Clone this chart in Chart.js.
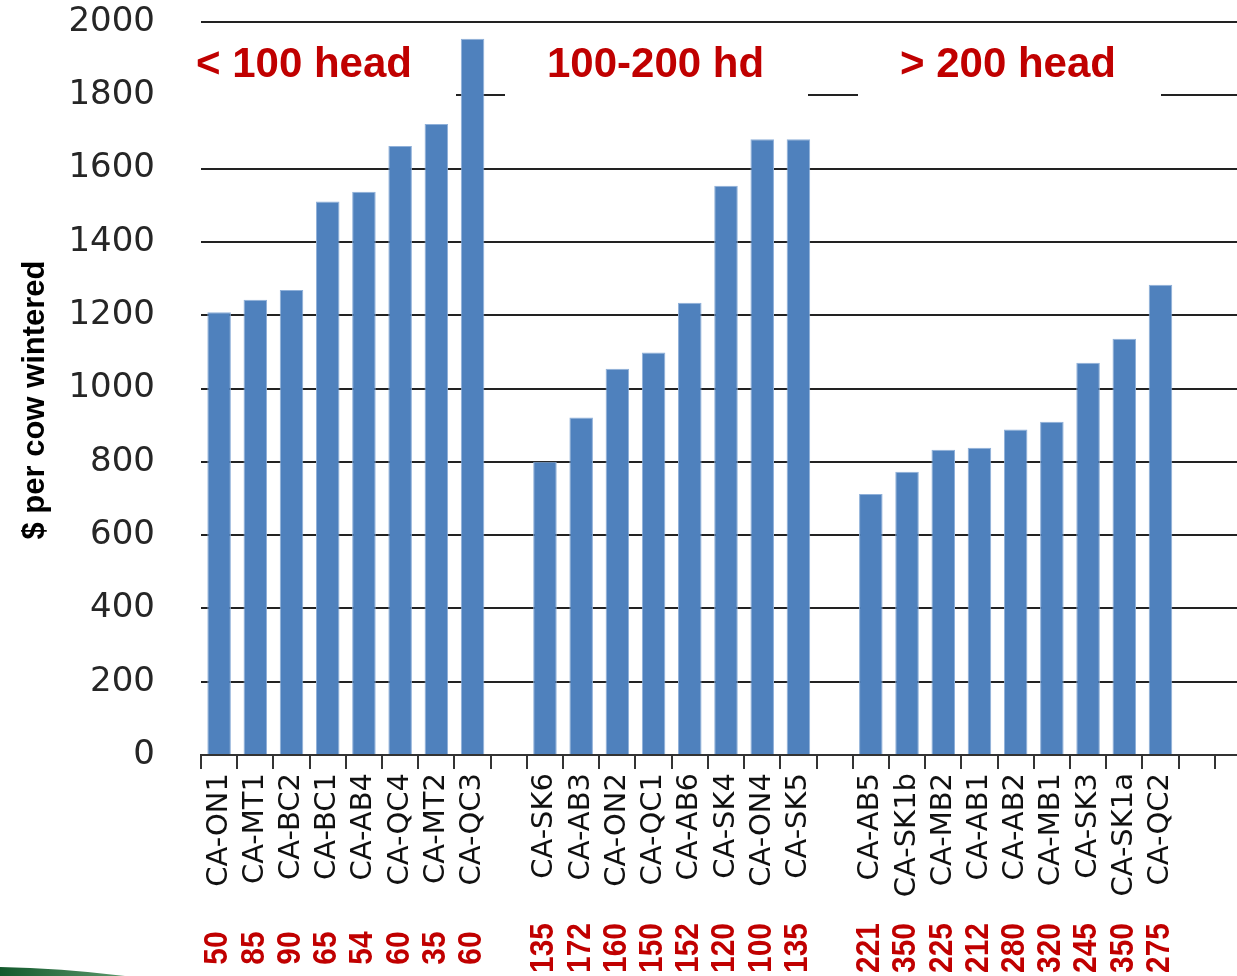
<!DOCTYPE html>
<html>
<head>
<meta charset="utf-8">
<script src="https://cdn.jsdelivr.net/npm/chart.js@4.4.1/dist/chart.umd.min.js"></script>
<style>
  html, body { margin: 0; padding: 0; background: #fff; overflow: hidden; }
  canvas { display: block; }
</style>
</head>
<body>
<canvas id="costChart" width="1251" height="976"></canvas>
<script>
// farms sorted within herd-size groups; "" slots are the gaps between groups
const farms = [
  "CA-ON1", "CA-MT1", "CA-BC2", "CA-BC1", "CA-AB4", "CA-QC4", "CA-MT2", "CA-QC3", "",
  "CA-SK6", "CA-AB3", "CA-ON2", "CA-QC1", "CA-AB6", "CA-SK4", "CA-ON4", "CA-SK5", "",
  "CA-AB5", "CA-SK1b", "CA-MB2", "CA-AB1", "CA-AB2", "CA-MB1", "CA-SK3", "CA-SK1a", "CA-QC2", "", ""
];
const costPerCow = [
  1208, 1242, 1269, 1510, 1537, 1662, 1722, 1954, null,
  800, 921, 1054, 1098, 1234, 1553, 1680, 1680, null,
  712, 773, 833, 838, 888, 909, 1070, 1136, 1283, null, null
];
const herdSizes = [
  "50", "85", "90", "65", "54", "60", "35", "60", "",
  "135", "172", "160", "150", "152", "120", "100", "135", "",
  "221", "350", "225", "212", "280", "320", "245", "350", "275", "", ""
];
const groupNames = ["< 100 head", "100-200 hd", "> 200 head"];
const yMin = 0, yMax = 2000, yStep = 200;

const red = "#c00000";

// text boxes, herd sizes, axis title
const overlay = {
  id: "overlay",
  beforeDatasetsDraw(chart) {
    const ctx = chart.ctx;
    ctx.save();
    // white boxes behind the group titles hide the 1800 line
    ctx.fillStyle = "#fff";
    [[190, 456], [505, 808], [858, 1161]].forEach(function (b) {
      ctx.fillRect(b[0], 34, b[1] - b[0], 70);
    });
    ctx.fillStyle = red;
    ctx.font = 'bold 42px "Liberation Sans", Arial, sans-serif';
    ctx.textBaseline = "alphabetic";
    const left = [196, 547, 900];
    groupNames.forEach(function (t, i) {
      ctx.fillText(t, left[i], 77);
    });
    ctx.restore();
  },
  afterDraw(chart) {
    const ctx = chart.ctx;
    const x = chart.scales.x;
    ctx.save();
    ctx.fillStyle = red;
    ctx.font = 'bold 34px "Liberation Sans", Arial, sans-serif';
    ctx.textAlign = "center";
    ctx.textBaseline = "middle";
    herdSizes.forEach(function (h, i) {
      if (!h) return;
      ctx.save();
      ctx.translate(x.getPixelForValue(i) - 1, 948);
      ctx.rotate(-Math.PI / 2);
      ctx.scale(0.88, 1);
      ctx.fillText(h, 0, 0);
      ctx.restore();
    });

    // y axis title
    ctx.save();
    ctx.fillStyle = "#000";
    ctx.font = 'bold 31px "Liberation Sans", Arial, sans-serif';
    ctx.textAlign = "center";
    ctx.textBaseline = "middle";
    ctx.translate(35, 400);
    ctx.rotate(-Math.PI / 2);
    ctx.fillText("$ per cow wintered", 0, 0);
    ctx.restore();

    // green swoosh in the corner of the slide
    const g = ctx.createLinearGradient(0, 0, 130, 0);
    g.addColorStop(0, "#12592c");
    g.addColorStop(1, "#5f9a6e");
    ctx.fillStyle = g;
    ctx.beginPath();
    ctx.moveTo(0, 967);
    ctx.quadraticCurveTo(60, 968, 125, 976);
    ctx.lineTo(0, 976);
    ctx.closePath();
    ctx.fill();
    ctx.restore();
  }
};

new Chart(document.getElementById("costChart"), {
  type: "bar",
  data: {
    labels: farms,
    datasets: [{
      data: costPerCow,
      backgroundColor: "#4f81bd",
      borderColor: "#8fb0d9",
      borderWidth: 1,
      barPercentage: 0.65,
      categoryPercentage: 1
    }]
  },
  options: {
    responsive: false,
    animation: false,
    layout: { padding: { top: 22, right: 0, bottom: 0, left: 0 } },
    plugins: { legend: { display: false }, tooltip: { enabled: false } },
    scales: {
      x: {
        offset: true,
        grid: {
          offset: true,
          drawOnChartArea: false,
          drawTicks: true,
          tickLength: 14,
          color: "#333",
          lineWidth: 2
        },
        border: { display: true, color: "#333", width: 2 },
        ticks: {
          autoSkip: false,
          minRotation: 90,
          maxRotation: 90,
          padding: 4,
          color: "#111",
          font: { family: '"DejaVu Sans", Verdana, sans-serif', size: 29 }
        },
        afterFit(scale) {
          scale.height = 221;
          scale.paddingLeft = 0;
          scale.paddingRight = 0;
        }
      },
      y: {
        min: yMin,
        max: yMax,
        grid: { drawTicks: false, color: "#222", lineWidth: 2 },
        border: { display: false },
        ticks: {
          stepSize: yStep,
          padding: 46,
          color: "#262626",
          font: { family: '"DejaVu Sans", Verdana, sans-serif', size: 34 },
          callback: function (v) { return String(v); }
        },
        afterFit(scale) {
          scale.width = 201;
          scale.paddingTop = 0;
          scale.paddingBottom = 0;
        }
      }
    }
  },
  plugins: [overlay]
});
</script>
</body>
</html>
